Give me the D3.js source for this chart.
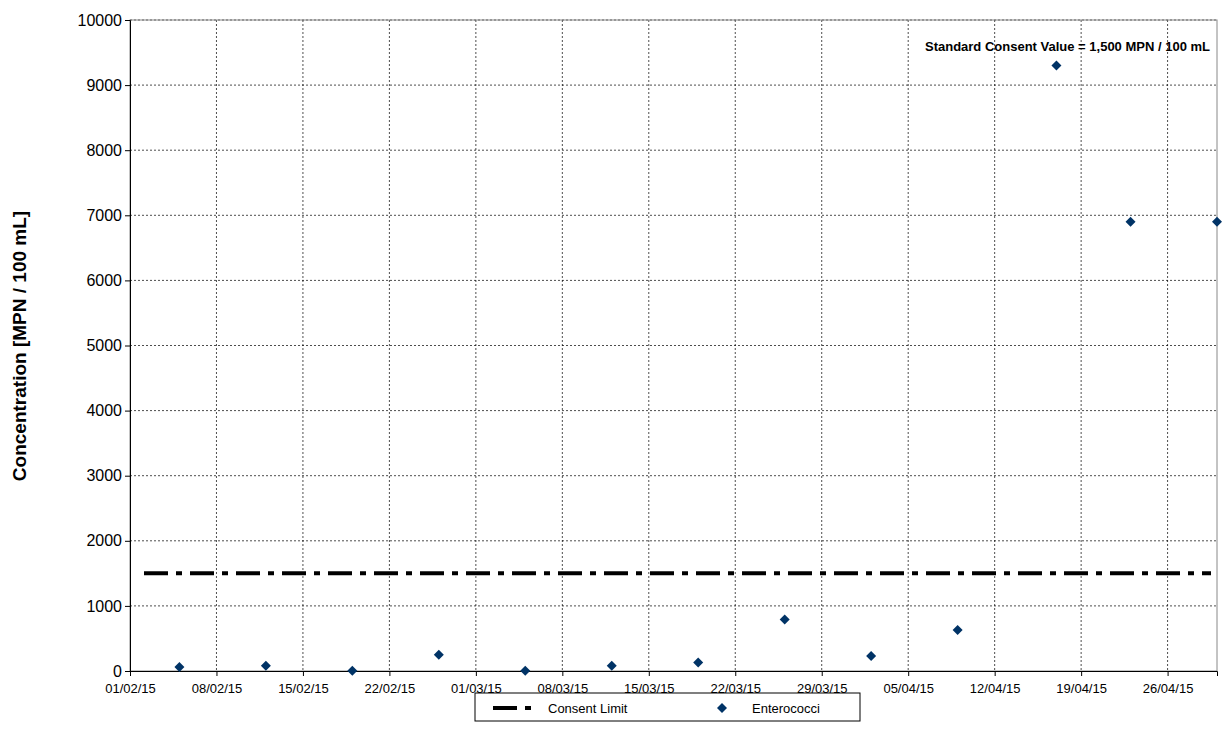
<!DOCTYPE html>
<html><head><meta charset="utf-8">
<script src="https://cdn.jsdelivr.net/npm/d3@7"></script>
<style>body{margin:0;background:#fff}svg{font-family:"Liberation Sans",Arial,sans-serif}</style>
</head><body><svg id="c" width="1225" height="749"></svg>
<script>
const sampleDates = ["05/02/15","12/02/15","19/02/15","26/02/15","05/03/15","12/03/15","19/03/15","26/03/15","02/04/15","09/04/15","17/04/15","23/04/15","30/04/15"]
const enterococci = [60, 80, 5, 250, 5, 80, 130, 790, 230, 630, 9300, 6900, 6900]
const consentLimit = 1500
const yTicks = [0,1000,2000,3000,4000,5000,6000,7000,8000,9000,10000]
const xTickLabels = ["01/02/15","08/02/15","15/02/15","22/02/15","01/03/15","08/03/15","15/03/15","22/03/15","29/03/15","05/04/15","12/04/15","19/04/15","26/04/15"]
const parse = d3.timeParse("%d/%m/%y")
const fmt = d3.timeFormat("%d/%m/%y")

const svg = d3.select("#c")
const m = {l: 130, r: 1217, t: 20, b: 671}
const x = d3.scaleTime().domain([parse("01/02/15"), parse("30/04/15")]).range([m.l, m.r])
const y = d3.scaleLinear().domain([0, 10000]).range([m.b, m.t])
const xTicks = xTickLabels.map(parse)

const g = svg.append("g")
g.selectAll(".vg").data(xTicks.slice(1)).join("line")
  .attr("x1", d => x(d)).attr("x2", d => x(d)).attr("y1", m.t).attr("y2", m.b)
  .attr("stroke", "#000").attr("stroke-dasharray", "2,2").attr("stroke-width", 0.7)
g.selectAll(".hg").data(yTicks.slice(1)).join("line")
  .attr("x1", m.l).attr("x2", m.r).attr("y1", d => y(d)).attr("y2", d => y(d))
  .attr("stroke", "#000").attr("stroke-dasharray", "2,2").attr("stroke-width", 0.7)
g.append("rect").attr("x", m.l).attr("y", m.t).attr("width", m.r - m.l).attr("height", m.b - m.t)
  .attr("fill", "none").attr("stroke", "#888")

svg.append("g").attr("transform", `translate(0,${m.b})`)
  .call(d3.axisBottom(x).tickValues(xTicks).tickFormat(fmt).tickSizeOuter(0).tickSize(5))
  .call(a => a.selectAll("text").attr("font-size", 13).attr("fill", "#000").attr("dy", "1.1em"))
svg.append("g").attr("transform", `translate(${m.l},0)`)
  .call(d3.axisLeft(y).tickValues(yTicks).tickFormat(d3.format("d")).tickSizeOuter(0).tickSize(5))
  .call(a => a.selectAll("text").attr("font-size", 16).attr("fill", "#000"))

svg.append("text").attr("transform", "translate(26,346) rotate(-90)").attr("text-anchor", "middle")
  .attr("font-size", 19).attr("font-weight", "bold").text("Concentration [MPN / 100 mL]")

svg.append("line").attr("x1", x(parse("01/02/15")) + 14).attr("x2", m.r - 6)
  .attr("y1", y(consentLimit)).attr("y2", y(consentLimit))
  .attr("stroke", "#000").attr("stroke-width", 4).attr("stroke-dasharray", "24,8,6,8")

const diamond = "M0,-5L5,0L0,5L-5,0Z"
svg.selectAll(".pt").data(sampleDates).join("path")
  .attr("d", diamond).attr("fill", "#003366")
  .attr("transform", (d, i) => `translate(${x(parse(d))},${y(enterococci[i])})`)

svg.append("text").attr("x", 1210).attr("y", 51).attr("text-anchor", "end")
  .attr("font-size", 13).attr("font-weight", "bold").text("Standard Consent Value = 1,500 MPN / 100 mL")

const lg = svg.append("g")
lg.append("rect").attr("x", 475).attr("y", 693).attr("width", 385).attr("height", 28).attr("fill", "#fff").attr("stroke", "#000")
lg.append("line").attr("x1", 493).attr("x2", 537).attr("y1", 708).attr("y2", 708).attr("stroke", "#000").attr("stroke-width", 4).attr("stroke-dasharray", "24,8,6,8")
lg.append("text").attr("x", 548).attr("y", 713).attr("font-size", 13).text("Consent Limit")
lg.append("path").attr("d", diamond).attr("fill", "#003366").attr("transform", "translate(722,708)")
lg.append("text").attr("x", 752).attr("y", 713).attr("font-size", 13).text("Enterococci")
</script></body></html>
